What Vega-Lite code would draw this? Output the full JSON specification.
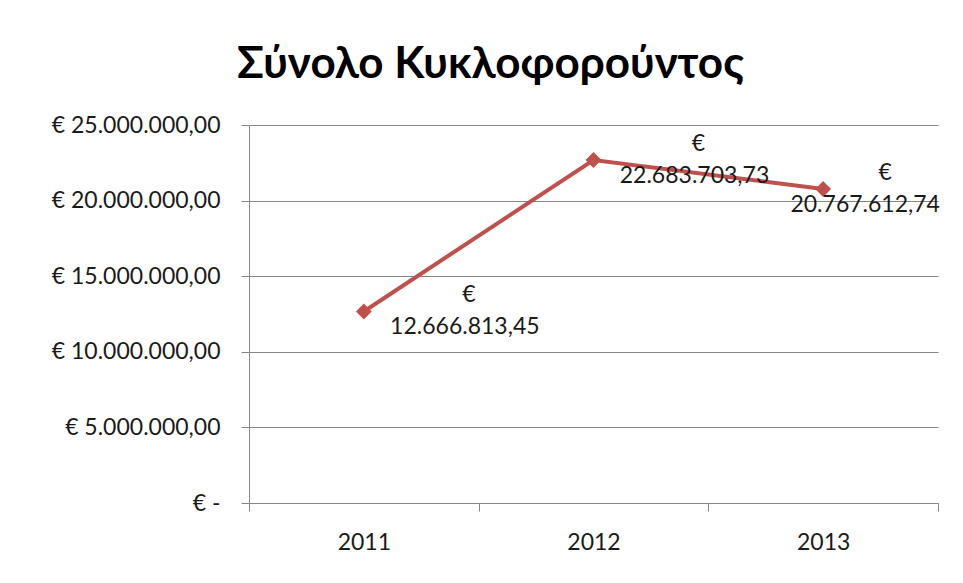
{
  "$schema": "https://vega.github.io/schema/vega-lite/v6.json",
  "width": 689,
  "height": 378,
  "autosize": "none",
  "padding": {"left": 249, "top": 125, "right": 25, "bottom": 80},
  "background": "white",
  "config": {
    "locale": {"number": {"decimal": ",", "thousands": ".", "grouping": [3], "currency": ["€ ", ""]}},
    "view": {"stroke": null},
    "font": "Lato"
  },
  "title": {
    "text": "Σύνολο Κυκλοφορούντος",
    "font": "Lato",
    "fontSize": 44,
    "fontWeight": "bold",
    "color": "#000000",
    "anchor": "middle",
    "offset": 27,
    "dx": -103
  },
  "data": {
    "values": [
      {"year": "2011", "value": 12666813.45},
      {"year": "2012", "value": 22683703.73},
      {"year": "2013", "value": 20767612.74}
    ]
  },
  "encoding": {
    "x": {
      "field": "year",
      "type": "ordinal",
      "scale": {"paddingInner": 0, "paddingOuter": 0},
      "axis": {
        "title": null,
        "labelAngle": 0,
        "tickBand": "extent",
        "domainColor": "#868686",
        "tickColor": "#868686",
        "tickSize": 8,
        "labelFontSize": 23,
        "labelColor": "#1a1a1a",
        "labelPadding": 20,
        "grid": false
      }
    },
    "y": {
      "field": "value",
      "type": "quantitative",
      "scale": {"domain": [0, 25000000], "nice": false},
      "axis": {
        "title": null,
        "values": [0, 5000000, 10000000, 15000000, 20000000, 25000000],
        "labelExpr": "datum.value == 0 ? '€ -' : format(datum.value, '$,.2f')",
        "labelFontSize": 23,
        "labelColor": "#1a1a1a",
        "labelPadding": 21,
        "domainColor": "#868686",
        "tickColor": "#868686",
        "tickSize": 8,
        "gridColor": "#868686",
        "gridWidth": 1
      }
    }
  },
  "layer": [
    {"mark": {"type": "line", "color": "#C0504D", "strokeWidth": 4}},
    {"mark": {"type": "point", "shape": "diamond", "filled": true, "color": "#C0504D", "size": 250, "opacity": 1}},
    {
      "transform": [{"filter": "datum.year != '2013'"}],
      "mark": {"type": "text", "text": "€", "fontSize": 23, "color": "#1a1a1a", "dx": 105, "dy": -16, "font": "Lato"}
    },
    {
      "transform": [{"filter": "datum.year != '2013'"}],
      "mark": {"type": "text", "fontSize": 23, "color": "#1a1a1a", "dx": 101, "dy": 16, "font": "Lato"},
      "encoding": {"text": {"field": "value", "type": "quantitative", "format": ",.2f"}}
    },
    {
      "transform": [{"filter": "datum.year == '2013'"}],
      "mark": {"type": "text", "text": "€", "fontSize": 23, "color": "#1a1a1a", "dx": 62, "dy": -16, "font": "Lato"}
    },
    {
      "transform": [{"filter": "datum.year == '2013'"}],
      "mark": {"type": "text", "fontSize": 23, "color": "#1a1a1a", "dx": 42, "dy": 16, "font": "Lato"},
      "encoding": {"text": {"field": "value", "type": "quantitative", "format": ",.2f"}}
    }
  ]
}
